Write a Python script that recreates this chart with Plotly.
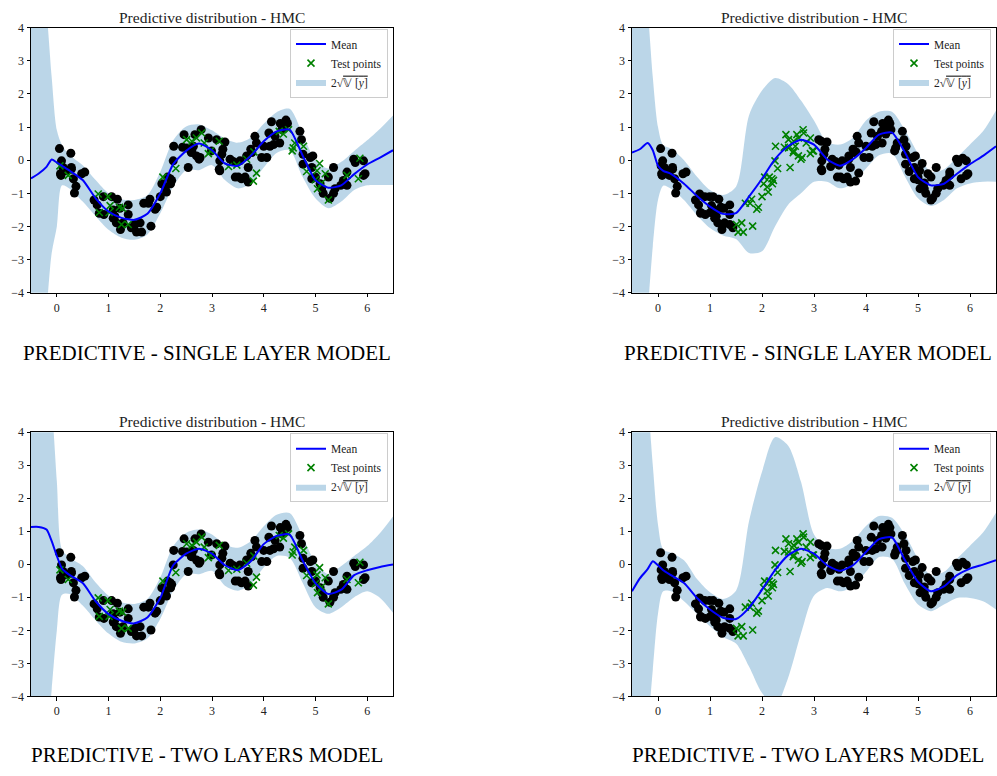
import plotly.graph_objects as go

# ---------------- data ----------------
# training points (black dots) of the random split
train_x = [0.05, 0.27, 0.09, 0.12, 0.08, 0.07, 0.19, 0.28, 0.28, 0.32, 0.37, 0.34, 0.48, 0.54,
           0.72, 0.78, 0.90, 0.82, 0.91, 1.06, 1.17, 1.09, 1.12, 1.15, 1.23, 1.28, 1.38, 1.38, 1.22, 1.09, 1.44,
           1.51, 1.54, 1.61, 1.64, 1.82, 1.68, 1.77, 1.80, 1.90, 1.93, 2.00,
           2.03, 2.10, 2.14, 2.20, 2.22, 2.19, 2.12, 2.26, 2.25,
           2.46, 2.43, 2.54, 2.64, 2.67, 2.79, 2.70, 2.75, 2.61, 2.51, 2.60, 2.77,
           2.99, 3.09, 3.25, 3.21, 3.15, 3.14, 2.93, 3.19, 3.15,
           3.35, 3.41, 3.45, 3.51, 3.54, 3.64, 3.67, 3.75, 3.83, 3.70, 3.70, 3.57, 3.77, 3.86,
           3.96, 4.06, 4.00, 4.10, 4.15, 4.19, 4.22, 4.32, 4.43, 4.46, 4.35, 4.12, 4.31, 4.38,
           4.70, 4.73, 4.76, 4.76, 4.90, 4.95, 4.93, 4.93,
           5.00, 5.09, 5.12, 5.15, 5.35, 5.38, 5.35, 5.28, 5.49, 5.54, 5.61, 5.61, 5.74, 5.77, 5.93, 5.96, 5.93, 5.25]
train_y = [0.35, 0.21, -0.02, -0.22, -0.46, -0.41, -0.32, -0.27, -0.22, -0.56, -0.79, -0.99, -0.41, -0.36,
           -1.20, -1.35, -1.10, -1.60, -1.64, -1.10, -1.18, -1.50, -1.69, -1.89, -2.09, -1.89, -1.35, -1.64, -1.45, -1.75, -2.04,
           -1.94, -2.17, -1.89, -2.17, -1.99, -1.30, -1.30, -1.18, -1.48, -1.42, -1.10,
           -0.71, -0.81, -0.51, -0.71, -0.61, -0.56, -0.96, 0.42, -0.02,
           0.77, 0.39, -0.22, 0.42, 0.77, 0.92, 0.13, 0.03, 0.28, 0.37, 0.23, 0.08,
           0.28, 0.62, 0.55, 0.33, -0.02, -0.27, 0.67, 0.18, -0.32,
           0.03, -0.04, -0.51, -0.51, -0.02, -0.51, 0.13, 0.33, 0.72, -0.22, -0.66, -0.56, 0.23, 0.52,
           0.08, 0.08, 0.42, 0.82, 1.16, 0.47, 0.72, 1.11, 1.21, 1.11, 0.92, 0.42, 0.52, 0.97,
           0.87, 0.62, 0.18, -0.12, 0.08, 0.13, -0.22, -0.56,
           -0.51, -0.71, -0.86, -1.00, -0.22, -0.86, -1.00, -1.15, -0.76, -0.61, -0.76, -0.36, 0.03, -0.07, -0.02, -0.41, -0.46, -0.51]

# test points (green crosses) of the random split
test_x = [0.06, 0.22, 0.80, 0.82, 0.99, 1.03, 1.01, 1.21, 1.27, 1.25, 1.38, 2.05, 2.30, 2.51, 2.61,
          2.70, 2.80, 2.85, 2.93, 2.97, 3.14, 3.32, 3.48, 3.67, 3.81, 3.80, 3.86, 4.30, 4.38, 4.48,
          4.57, 4.60, 4.55, 4.77, 4.83, 5.00, 5.04, 5.08, 5.03, 5.19, 5.12, 5.25, 5.61, 5.83, 5.86]
test_y = [-0.17, -0.46, -1.02, -1.58, -1.10, -1.37, -1.58, -1.42, -1.45, -1.94, -1.94, -0.51, -0.25, 0.62, 0.57,
          0.67, 0.82, 0.52, 0.20, 0.28, 0.57, -0.19, -0.15, 0.03, 0.25, -0.63, -0.39, 0.87, 0.79, 0.92,
          0.37, 0.52, 0.28, 0.42, -0.34, -0.59, -0.86, -0.10, -0.32, -0.41, -0.69, -1.20, -0.46, -0.56, 0.06]

# gap used as test region in the right-hand panels
gap_lo, gap_hi = 1.47, 3.03

# predictive mean and band (mean +/- 2 std) on a grid
grid = [-0.5, -0.35, -0.2, -0.1, 0.0, 0.1, 0.25, 0.5, 0.75, 1.0, 1.25, 1.5, 1.75, 2.0, 2.25, 2.5,
        2.75, 3.0, 3.25, 3.5, 3.75, 4.0, 4.25, 4.5, 4.75, 5.0, 5.25, 5.5, 5.75, 6.0, 6.25, 6.5]

mean1 = [-0.55, -0.40, -0.20, 0.02, -0.07, -0.17, -0.32, -0.60, -1.15, -1.55, -1.74, -1.80, -1.62, -1.00, -0.12, 0.28,
         0.50, 0.30, -0.10, -0.17, 0.13, 0.57, 0.87, 0.92, 0.15, -0.60, -0.83, -0.76, -0.42, -0.13, 0.08, 0.30]
upper1 = [9.0, 6.5, 4.5, 2.5, 0.9, 0.45, 0.15, -0.15, -0.60, -1.00, -1.18, -1.20, -1.06, -0.35, 0.60, 1.02,
          1.08, 0.90, 0.65, 0.53, 0.68, 1.10, 1.45, 1.55, 0.80, 0.00, -0.25, -0.05, 0.28, 0.60, 0.95, 1.35]
lower1 = [-9.0, -6.5, -4.5, -2.8, -2.0, -0.76, -0.86, -1.25, -1.69, -2.10, -2.34, -2.40, -2.24, -1.60, -0.80, -0.30,
          -0.30, -0.15, -0.60, -0.85, -0.70, -0.22, 0.22, 0.30, -0.50, -1.15, -1.45, -1.25, -0.90, -0.76, -0.75, -0.75]

mean2 = [0.23, 0.33, 0.52, 0.30, -0.17, -0.32, -0.41, -0.71, -1.08, -1.40, -1.62, -1.60, -1.10, -0.56, 0.03, 0.42,
         0.62, 0.47, 0.03, -0.17, 0.03, 0.37, 0.77, 0.83, 0.23, -0.51, -0.76, -0.71, -0.41, -0.12, 0.13, 0.42]
upper2 = [9.0, 7.0, 4.6, 2.5, 1.0, 0.45, 0.35, 0.00, -0.50, -0.90, -1.05, -0.80, 1.35, 2.10, 2.48, 2.30,
          1.80, 1.20, 0.55, 0.47, 0.68, 1.20, 1.46, 1.46, 0.90, 0.20, -0.35, -0.27, 0.08, 0.47, 0.87, 1.50]
lower2 = [-9.0, -7.0, -4.6, -2.6, -1.2, -0.77, -0.86, -1.20, -1.66, -2.05, -2.27, -2.38, -2.80, -2.75, -2.00, -1.35,
          -1.00, -0.65, -0.65, -0.85, -0.70, -0.25, 0.15, 0.20, -0.50, -1.15, -1.38, -1.20, -0.85, -0.70, -0.65, -0.65]

mean3 = [1.13, 1.13, 1.05, 0.70, 0.25, -0.13, -0.33, -0.57, -1.12, -1.51, -1.71, -1.79, -1.61, -1.02, -0.03, 0.32,
         0.47, 0.32, -0.03, -0.18, 0.09, 0.61, 0.86, 0.90, 0.12, -0.57, -0.90, -0.77, -0.33, -0.18, -0.08, -0.01]
upper3 = [10.0, 8.0, 6.0, 4.8, 2.5, 0.45, 0.20, -0.05, -0.55, -0.95, -1.15, -1.20, -1.05, -0.40, 0.55, 0.95,
          1.05, 0.90, 0.60, 0.50, 0.70, 1.15, 1.50, 1.55, 0.85, 0.05, -0.30, -0.05, 0.25, 0.55, 0.95, 1.45]
lower3 = [-10.0, -8.0, -5.5, -3.8, -2.0, -0.92, -0.90, -1.25, -1.70, -2.10, -2.35, -2.40, -2.25, -1.65, -0.80, -0.30,
          -0.30, -0.20, -0.65, -0.80, -0.60, -0.10, 0.25, 0.20, -0.55, -1.30, -1.50, -1.30, -1.00, -0.82, -1.02, -1.47]

mean4 = [-0.82, -0.43, -0.15, 0.09, -0.03, -0.18, -0.33, -0.57, -1.02, -1.37, -1.62, -1.66, -1.32, -0.77, -0.18, 0.27,
         0.47, 0.32, -0.03, -0.20, -0.03, 0.37, 0.76, 0.81, 0.12, -0.53, -0.82, -0.67, -0.33, -0.13, -0.01, 0.12]
upper4 = [10.0, 7.0, 5.0, 3.0, 1.2, 0.45, 0.35, 0.12, -0.45, -0.85, -1.05, -0.80, 1.30, 2.80, 3.85, 3.60,
          2.50, 0.90, 0.50, 0.47, 0.71, 1.16, 1.46, 1.41, 0.90, 0.17, -0.33, -0.23, 0.17, 0.56, 0.96, 1.56]
lower4 = [-10.0, -7.0, -5.0, -3.2, -1.5, -0.82, -0.82, -1.12, -1.50, -1.88, -2.20, -2.40, -3.10, -3.90, -4.30, -3.45,
          -2.10, -0.95, -0.72, -0.82, -0.67, -0.23, 0.22, 0.17, -0.60, -1.22, -1.42, -1.22, -1.02, -1.02, -1.12, -1.37]

title_text = "Predictive distribution - HMC"
captions = ["PREDICTIVE - SINGLE LAYER MODEL", "PREDICTIVE - SINGLE LAYER MODEL",
            "PREDICTIVE - TWO LAYERS MODEL", "PREDICTIVE - TWO LAYERS MODEL"]
x_ticks = [0, 1, 2, 3, 4, 5, 6]
y_ticks = [-4, -3, -2, -1, 0, 1, 2, 3, 4]

# ---------------- splits ----------------
all_x = train_x + test_x
all_y = train_y + test_y
gap_train_x = [x for x in all_x if not (gap_lo <= x < gap_hi)]
gap_train_y = [y for x, y in zip(all_x, all_y) if not (gap_lo <= x < gap_hi)]
gap_test_x = [x for x in all_x if gap_lo <= x < gap_hi]
gap_test_y = [y for x, y in zip(all_x, all_y) if gap_lo <= x < gap_hi]

panels = [
    dict(mean=mean1, up=upper1, lo=lower1, tx=train_x, ty=train_y, sx=test_x, sy=test_y),
    dict(mean=mean2, up=upper2, lo=lower2, tx=gap_train_x, ty=gap_train_y, sx=gap_test_x, sy=gap_test_y),
    dict(mean=mean3, up=upper3, lo=lower3, tx=train_x, ty=train_y, sx=test_x, sy=test_y),
    dict(mean=mean4, up=upper4, lo=lower4, tx=gap_train_x, ty=gap_train_y, sx=gap_test_x, sy=gap_test_y),
]

W, H = 997, 776
xdoms = [(31 / W, 393 / W), (632 / W, 996 / W)]
ydoms = [(1 - 291 / H, 1 - 21 / H), (1 - 702 / H, 1 - 433 / H)]

FONT = "Liberation Serif"
BAND = "rgba(31,119,180,0.3)"

fig = go.Figure()
layout = dict(width=W, height=H, margin=dict(l=0, r=0, t=0, b=0),
              paper_bgcolor="white", plot_bgcolor="white", showlegend=True,
              font=dict(family=FONT, color="#222222"))
annotations = []

for i, p in enumerate(panels):
    r, c = divmod(i, 2)
    sfx = "" if i == 0 else str(i + 1)
    xa, ya = "x" + sfx, "y" + sfx
    lg = "legend" + sfx
    fig.add_trace(go.Scatter(x=grid, y=p["lo"], mode="lines",
                             line=dict(width=0, color=BAND, shape="spline", smoothing=0.8),
                             showlegend=False, hoverinfo="skip", xaxis=xa, yaxis=ya, legend=lg))
    fig.add_trace(go.Scatter(x=grid, y=p["up"], mode="lines",
                             line=dict(width=0, color=BAND, shape="spline", smoothing=0.8),
                             fill="tonexty", fillcolor=BAND,
                             name="2√<span style='text-decoration:overline'>𝕍 [<i>y</i>]</span>",
                             legendrank=3, xaxis=xa, yaxis=ya, legend=lg))
    fig.add_trace(go.Scatter(x=p["tx"], y=p["ty"], mode="markers",
                             marker=dict(size=9, color="black"), showlegend=False,
                             xaxis=xa, yaxis=ya, legend=lg))
    fig.add_trace(go.Scatter(x=p["sx"], y=p["sy"], mode="markers", name="Test points",
                             marker=dict(symbol="x-thin", size=7, line=dict(width=1.6, color="green"),
                                         color="green"),
                             legendrank=2, xaxis=xa, yaxis=ya, legend=lg))
    fig.add_trace(go.Scatter(x=grid, y=p["mean"], mode="lines", name="Mean",
                             line=dict(color="#0000ff", width=2, shape="spline", smoothing=0.6),
                             legendrank=1, xaxis=xa, yaxis=ya, legend=lg))

    axcommon = dict(showline=True, mirror=True, linecolor="black", linewidth=1, showgrid=False,
                    zeroline=False, ticks="outside", ticklen=3.5, tickcolor="black",
                    tickfont=dict(family=FONT, size=12, color="#222222"))
    layout["xaxis" + sfx] = dict(domain=list(xdoms[c]), range=[-0.5, 6.5], tickvals=x_ticks,
                                 anchor=ya, **axcommon)
    layout["yaxis" + sfx] = dict(domain=list(ydoms[r]), range=[-4, 4], tickvals=y_ticks,
                                 anchor=xa, **axcommon)
    layout[lg] = dict(x=xdoms[c][1] - 5 / W, y=ydoms[r][1] - 1 / H, xanchor="right", yanchor="top",
                      bgcolor="rgba(255,255,255,0.85)", bordercolor="#cccccc", borderwidth=1,
                      traceorder="normal", itemwidth=30,
                      font=dict(family=FONT, size=11.5, color="#222222"), tracegroupgap=0)
    annotations.append(dict(text=title_text, xref="paper", yref="paper",
                            x=(xdoms[c][0] + xdoms[c][1]) / 2, y=ydoms[r][1], xanchor="center",
                            yanchor="bottom", yshift=0, showarrow=False,
                            font=dict(family=FONT, size=15.5, color="#222222")))
    cap_y = (1 - 352 / H) if r == 0 else (1 - 762 / H)
    cap_x = (207 / W) if c == 0 else (808 / W)
    annotations.append(dict(text=captions[i], xref="paper", yref="paper", x=cap_x, y=cap_y,
                            xanchor="center", yanchor="middle", showarrow=False,
                            font=dict(family=FONT, size=21, color="black")))

layout["annotations"] = annotations
fig.update_layout(**layout)
fig.write_html("out.html")
